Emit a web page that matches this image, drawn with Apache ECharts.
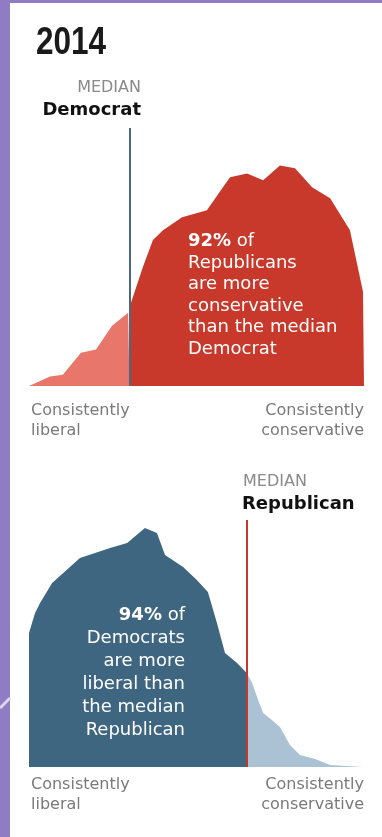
<!DOCTYPE html>
<html>
<head>
<meta charset="utf-8">
<script src="https://cdn.jsdelivr.net/npm/echarts@6/dist/echarts.min.js"></script>
<style>
  html, body { margin: 0; padding: 0; background: #8f7cc4; }
  #chart { width: 382px; height: 837px; }
</style>
</head>
<body>
<div id="chart"></div>
<script>
// ideology scale 0 (consistently liberal) .. 100 (consistently conservative)
const repMedianDem = 30;   // median Democrat
const demMedianRep = 65;   // median Republican

// Republicans, 2014 (relative share)
const repLowX = [0, 6.3, 10.1, 15.5, 20, 24.8, 29.6, 30];
const repLowY = [0, 3.7, 4.4, 12.9, 14.1, 23.4, 28.4, 29];
const repHighX = [30, 34, 37, 40, 45.7, 53.1, 60, 65.1, 69.9, 74.9, 79.4, 84.5, 89.9, 95.8, 99.7, 100];
const repHighY = [30.5, 46.1, 56.6, 60.4, 65.4, 68.1, 80.9, 82.4, 79.7, 85.5, 84.4, 77, 72.8, 60.4, 36.5, 0];

// Democrats, 2014 (relative share)
const demLowX = [0, 0, 1.8, 3.3, 6.9, 15.2, 24.2, 29.3, 34.6, 38.2, 40.6, 46, 50.1, 53.4, 56.1, 58.5, 62.1, 65];
const demLowY = [0, 54.3, 62.3, 66.4, 74.5, 84.6, 88.7, 90.7, 96.8, 94.7, 85.8, 81, 75.7, 70.9, 58.3, 46.2, 42.1, 38.1];
const demHighX = [65, 66.6, 68.4, 69.9, 72.5, 74.9, 77.9, 80.9, 85.4, 89.9, 99.7];
const demHighY = [38.1, 34, 27.1, 21.9, 19, 16.2, 8.9, 4.9, 3.2, 0.8, 0];

const zip = (xs, ys) => xs.map((x, i) => [x, ys[i]]);

const chart = echarts.init(document.getElementById('chart'));

function area(name, idx, data, color, mark) {
  const s = {
    name: name,
    type: 'line',
    xAxisIndex: idx,
    yAxisIndex: idx,
    data: data,
    showSymbol: false,
    silent: true,
    lineStyle: { width: 0 },
    areaStyle: { color: color, opacity: 1 }
  };
  if (mark) {
    s.markLine = {
      symbol: 'none',
      silent: true,
      label: { show: false },
      lineStyle: { color: mark.color, width: 2, type: 'solid' },
      data: [{ xAxis: mark.x }]
    };
  }
  return s;
}

const labelFont = 'DejaVu Sans';

chart.setOption({
  backgroundColor: '#8f7cc4',
  animation: false,
  grid: [
    { left: 29, right: 18, top: 128, height: 258 },
    { left: 29, right: 18, top: 520, height: 247 }
  ],
  xAxis: [
    { type: 'value', gridIndex: 0, min: 0, max: 100, show: false },
    { type: 'value', gridIndex: 1, min: 0, max: 100, show: false }
  ],
  yAxis: [
    { type: 'value', gridIndex: 0, min: 0, max: 100, show: false },
    { type: 'value', gridIndex: 1, min: 0, max: 100, show: false }
  ],
  series: [
    area('Republicans (left of median)', 0, zip(repLowX, repLowY), '#e8766a'),
    area('Republicans (right of median)', 0, zip(repHighX, repHighY), '#c8392b',
      { x: repMedianDem, color: '#4b6883' }),
    area('Democrats (left of median)', 1, zip(demLowX, demLowY), '#3f6681'),
    area('Democrats (right of median)', 1, zip(demHighX, demHighY), '#aac2d4',
      { x: demMedianRep, color: '#c0392b' })
  ],
  graphic: [
    { type: 'rect', z: 0, shape: { x: 10, y: 3, width: 372, height: 834 }, style: { fill: '#ffffff' } },
    { type: 'line', z: 0, shape: { x1: 0, y1: 708, x2: 10, y2: 698 }, style: { stroke: '#dcd5f0', lineWidth: 3 } },
    { type: 'text', z: 10, x: 36, y: 44, scaleX: 0.83, style: {
        text: '2014', font: 'bold 38px "Liberation Sans", Arial, sans-serif',
        fill: '#1a1a1a', textAlign: 'left', textVerticalAlign: 'middle' } },
    { type: 'text', z: 10, x: 141, y: 88, style: {
        text: 'MEDIAN', font: '16px "DejaVu Sans"', fill: '#8a8a8a',
        textAlign: 'right', textVerticalAlign: 'middle' } },
    { type: 'text', z: 10, x: 141, y: 110, style: {
        text: 'Democrat', font: 'bold 18px "DejaVu Sans"', fill: '#111',
        textAlign: 'right', textVerticalAlign: 'middle' } },
    { type: 'text', z: 10, x: 243, y: 482, style: {
        text: 'MEDIAN', font: '16px "DejaVu Sans"', fill: '#8a8a8a',
        textAlign: 'left', textVerticalAlign: 'middle' } },
    { type: 'text', z: 10, x: 242, y: 504, style: {
        text: 'Republican', font: 'bold 18px "DejaVu Sans"', fill: '#111',
        textAlign: 'left', textVerticalAlign: 'middle' } },
    { type: 'text', z: 10, x: 188, y: 231, style: {
        text: '{b|92%} of\nRepublicans\nare more\nconservative\nthan the median\nDemocrat',
        fill: '#ffffff', fontFamily: labelFont, fontSize: 18, lineHeight: 21.5,
        textAlign: 'left', textVerticalAlign: 'top',
        rich: { b: { fontWeight: 'bold', fill: '#ffffff', fontFamily: labelFont, fontSize: 18, lineHeight: 21.5 } } } },
    { type: 'text', z: 10, x: 185, y: 604, style: {
        text: '{b|94%} of\nDemocrats\nare more\nliberal than\nthe median\nRepublican',
        fill: '#ffffff', fontFamily: labelFont, fontSize: 18, lineHeight: 23,
        textAlign: 'right', textVerticalAlign: 'top',
        rich: { b: { fontWeight: 'bold', fill: '#ffffff', fontFamily: labelFont, fontSize: 18, lineHeight: 23 } } } },
    { type: 'text', z: 10, x: 31, y: 401, style: {
        text: 'Consistently\nliberal', fill: '#7a7a7a', fontFamily: labelFont, fontSize: 16, lineHeight: 20,
        textAlign: 'left', textVerticalAlign: 'top' } },
    { type: 'text', z: 10, x: 364, y: 401, style: {
        text: 'Consistently\nconservative', fill: '#7a7a7a', fontFamily: labelFont, fontSize: 16, lineHeight: 20,
        textAlign: 'right', textVerticalAlign: 'top' } },
    { type: 'text', z: 10, x: 31, y: 775, style: {
        text: 'Consistently\nliberal', fill: '#7a7a7a', fontFamily: labelFont, fontSize: 16, lineHeight: 20,
        textAlign: 'left', textVerticalAlign: 'top' } },
    { type: 'text', z: 10, x: 364, y: 775, style: {
        text: 'Consistently\nconservative', fill: '#7a7a7a', fontFamily: labelFont, fontSize: 16, lineHeight: 20,
        textAlign: 'right', textVerticalAlign: 'top' } }
  ]
});

window.addEventListener('resize', () => chart.resize());
</script>
</body>
</html>
